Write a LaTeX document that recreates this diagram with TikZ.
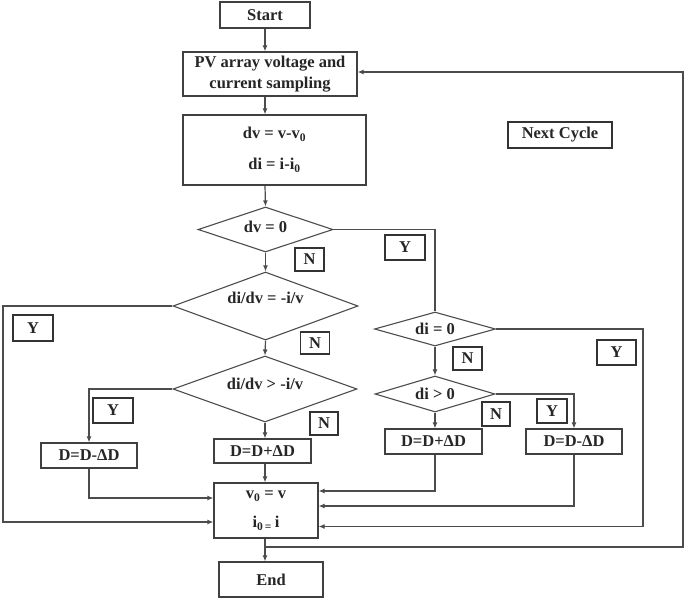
\documentclass[tikz,border=0pt]{standalone}
\usepackage{fontspec}
\setmainfont{Liberation Serif}
\usetikzlibrary{shapes.geometric,arrows.meta}
\begin{document}
\begin{tikzpicture}[x=1pt,y=-1pt,
  every node/.style={font=\fontsize{16.5}{21}\selectfont\bfseries, text=black!85},
  box/.style={draw=black!75, line width=1.2pt, rectangle, inner sep=0pt, align=center},
  dec/.style={draw=black!70, line width=1.1pt, diamond, aspect=3, inner sep=0pt},
  lab/.style={draw=black!80, line width=1.4pt, rectangle, inner sep=0pt},
  line/.style={draw=black!70, line width=1.2pt},
  arr/.style={line, -{Latex[length=6pt,width=5pt]}}]
\useasboundingbox (0,0) rectangle (685,600);
\fill[white] (0,0) rectangle (685,600);

% helper columns
\coordinate (c) at (265,0);
\coordinate (lx) at (3,0);
\coordinate (rx) at (683,0);
\coordinate (j) at (265,547);

% main nodes
\node[box, minimum width=90pt, minimum height=26pt] (start) at (265,15) {Start};
\node[box, minimum width=174pt, minimum height=44pt] (pv) at (270,74) {PV array voltage and\\current sampling};
\node[box, minimum width=183pt, minimum height=70pt] (dv) at (274.5,150) {dv = v-v\textsubscript{0}\\[10pt]di = i-i\textsubscript{0}};
\node[dec, minimum width=135pt, minimum height=45pt, label={[yshift=3pt]center:dv = 0}] (d1) at (265.5,229.5) {};
\node[dec, minimum width=185pt, minimum height=68pt, label={[yshift=8pt]center:di/dv = -i/v}] (d2) at (265.5,306) {};
\node[dec, minimum width=184pt, minimum height=66pt, label={[yshift=5pt]center:di/dv \textgreater{} -i/v}] (d3) at (265,389) {};
\node[dec, minimum width=121pt, minimum height=34pt] (d4) at (435,329) {di = 0};
\node[dec, minimum width=120pt, minimum height=36pt] (d5) at (435,394) {di \textgreater{} 0};
\node[box, minimum width=96pt, minimum height=25pt] (dm1) at (89,455.5) {D=D-ΔD};
\node[box, minimum width=97pt, minimum height=24pt] (dp1) at (262.5,451) {D=D+ΔD};
\node[box, minimum width=97pt, minimum height=25pt] (dp2) at (433.5,441.5) {D=D+ΔD};
\node[box, minimum width=96pt, minimum height=25pt] (dm2) at (574,441.5) {D=D-ΔD};
\node[box, minimum width=104pt, minimum height=55pt] (upd) at (266,510.5) {v\textsubscript{0} = v\\[8pt]i\textsubscript{0\,=}\,i};
\node[box, minimum width=104pt, minimum height=35pt] (end) at (271,579.5) {End};
\node[lab, minimum width=104pt, minimum height=26pt] (next) at (560,135) {Next Cycle};

% Y / N labels
\node[lab, minimum width=29pt, minimum height=23pt] (n1) at (309.5,259.5) {N};
\node[lab, minimum width=40pt, minimum height=25pt] (y1) at (405,247.5) {Y};
\node[lab, minimum width=40pt, minimum height=26pt] (y2) at (33,328) {Y};
\node[lab, minimum width=29pt, minimum height=22pt] (n2) at (315,343) {N};
\node[lab, minimum width=40pt, minimum height=25pt] (y3) at (113,410.5) {Y};
\node[lab, minimum width=28pt, minimum height=23pt] (n3) at (324,423.5) {N};
\node[lab, minimum width=29pt, minimum height=23pt] (n4) at (467.5,358.5) {N};
\node[lab, minimum width=39pt, minimum height=25pt] (y4) at (616.5,352.5) {Y};
\node[lab, minimum width=28pt, minimum height=24pt] (n5) at (496,414) {N};
\node[lab, minimum width=30pt, minimum height=24pt] (y5) at (552,411) {Y};

% connectors
\draw[arr] (start.south -| c) -- (pv.north -| c);
\draw[arr] (pv.south -| c) -- (dv.north -| c);
\draw[arr] (dv.south -| c) -- (d1.north);
\draw[line] (d1.east) -| (d4.north);
\draw[arr] (d1.south) -- (d2.north);
\draw[arr] (d2.south) -- (d3.north);
\draw[arr] (d2.west) -- (d2.west -| lx) |- ([yshift=-11.5pt]upd.west);
\draw[arr] (d3.west) -| (dm1.north);
\draw[arr] (d3.south) -- (dp1.north -| d3.south);
\draw[arr] (dm1.south) |- ([yshift=12.5pt]upd.west);
\draw[arr] (dp1.south -| c) -- (upd.north -| c);
\draw[arr] (d4.south) -- (d5.north);
\draw[arr] (d4.east) -- (643,329) |- ([yshift=-16pt]upd.east);
\draw[arr] (d5.south) -- (dp2.north -| d5.south);
\draw[arr] (d5.east) -| (dm2.north);
\draw[arr] (dp2.south -| d5.south) |- ([yshift=19.5pt]upd.east);
\draw[arr] (dm2.south) |- ([yshift=4.5pt]upd.east);
\draw[arr] (upd.south -| c) -- (end.north -| c);
\draw[arr] (j) -- (j -| rx) -- (rx |- 0,72) -- (pv.east |- 0,72);
\end{tikzpicture}
\end{document}
